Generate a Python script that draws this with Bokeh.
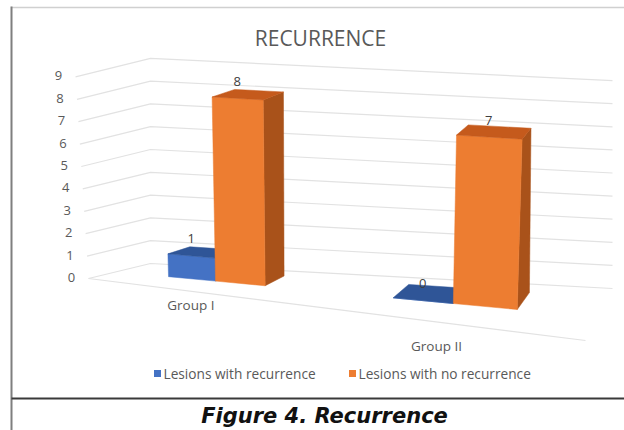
import numpy as np
from bokeh.plotting import figure
from bokeh.models import Range1d
from bokeh.embed import file_html
from bokeh.resources import INLINE
from bokeh.core.properties import value

# ---------------- data ----------------
title_text = "RECURRENCE"
caption_text = "Figure 4. Recurrence"
categories = ["Group I", "Group II"]
series_names = ["Lesions with recurrence", "Lesions with no recurrence"]
lesions_with_recurrence = [1, 0]
lesions_with_no_recurrence = [8, 7]
y_ticks = [0, 1, 2, 3, 4, 5, 6, 7, 8, 9]

# ---------------- style ----------------
FRONT = ["#4472C4", "#ED7D31"]
TOP = ["#2F5597", "#C55A1C"]
SIDE = ["#2B4F8C", "#A9521A"]
GRID = "#E2E2E2"
TXT = "#595959"
FONT = value("Open Sans")

W, H = 624, 430

# ---------------- 3-D projection (floor corners in screen px) ----------------
FL, FR, BR, BL = (88, 278), (585, 340), (612, 288), (150, 263)
HU = dict(FL=22.4, FR=26.0, BR=23.1, BL=22.8)   # px per unit value
SH = dict(FL=-1.44, FR=1.8, BR=0.0, BL=0.0)     # x shear per unit value
PERSP = 1.285
BAR_W = 0.115
V_FRONT, V_BACK = 0.45, 0.82


def warp(u):
    return u / (u + (1 - u) * PERSP)


def bil(u, v, a, b, c, d):
    # a=FL b=FR c=BR d=BL
    return (1 - u) * (1 - v) * a + u * (1 - v) * b + u * v * c + (1 - u) * v * d


def proj(u, v, y):
    uw = warp(u)
    px = bil(uw, v, FL[0], FR[0], BR[0], BL[0])
    py = bil(uw, v, FL[1], FR[1], BR[1], BL[1])
    h = bil(uw, v, HU["FL"], HU["FR"], HU["BR"], HU["BL"])
    s = bil(uw, v, SH["FL"], SH["FR"], SH["BR"], SH["BL"])
    return px + y * s, py - y * h


p = figure(width=W, height=H, x_range=Range1d(0, W), y_range=Range1d(H, 0),
           min_border=0, toolbar_location=None, output_backend="svg",
           x_axis_location=None, y_axis_location=None)
p.grid.visible = False
p.outline_line_color = None
p.background_fill_color = "white"
p.border_fill_color = "white"

# frame lines
p.segment(x0=[11], y0=[7], x1=[W], y1=[7], line_color="#D0D0D0", line_width=1.5)
p.segment(x0=[11], y0=[6], x1=[11], y1=[H], line_color="#7F7F7F", line_width=2)
p.segment(x0=[11], y0=[398], x1=[W], y1=[398], line_color="#3A3A3A", line_width=2)

# gridlines: side wall + back wall
xs, ys = [], []
for t in y_ticks:
    a = proj(0, 0, t)
    b = proj(0, 1, t)
    c = proj(1, 1, t)
    xs.append([a[0], b[0], c[0]])
    ys.append([a[1], b[1], c[1]])
p.multi_line(xs=xs, ys=ys, line_color=GRID, line_width=1.2)
# floor front edge
a = proj(0, 0, 0)
b = proj(1, 0, 0)
p.line(x=[a[0], b[0]], y=[a[1], b[1]], line_color=GRID, line_width=1.2)

# y tick labels
tx, ty, tt = [], [], []
for t in y_ticks:
    x, y = proj(0, 0, t)
    tx.append(x - 17)
    ty.append(y - 1)
    tt.append(str(t))
p.text(x=tx, y=ty, text=tt, text_font=FONT, text_font_size="13px",
       text_color=TXT, text_align="center", text_baseline="middle")

# bars
series_values = [lesions_with_recurrence, lesions_with_no_recurrence]
lab_x, lab_y, lab_t = [], [], []
for si, vals in enumerate(series_values):
    fx, fy, tpx, tpy, sx, sy = [], [], [], [], [], []
    for ci, val in enumerate(vals):
        c = (ci + 0.5) / len(categories)
        u0 = c - BAR_W + si * BAR_W
        u1 = u0 + BAR_W
        P = proj
        f = [P(u0, V_FRONT, 0), P(u1, V_FRONT, 0), P(u1, V_FRONT, val), P(u0, V_FRONT, val)]
        tp = [P(u0, V_FRONT, val), P(u1, V_FRONT, val), P(u1, V_BACK, val), P(u0, V_BACK, val)]
        sd = [P(u1, V_FRONT, 0), P(u1, V_BACK, 0), P(u1, V_BACK, val), P(u1, V_FRONT, val)]
        fx.append([q[0] for q in f]); fy.append([q[1] for q in f])
        tpx.append([q[0] for q in tp]); tpy.append([q[1] for q in tp])
        sx.append([q[0] for q in sd]); sy.append([q[1] for q in sd])
        lx, ly = P((u0 + u1) / 2, V_FRONT, val)
        lab_x.append(lx); lab_y.append(ly - 17); lab_t.append(str(val))
    p.patches(xs=sx, ys=sy, fill_color=SIDE[si], line_color=SIDE[si], line_width=0.5)
    p.patches(xs=fx, ys=fy, fill_color=FRONT[si], line_color=FRONT[si], line_width=0.5)
    p.patches(xs=tpx, ys=tpy, fill_color=TOP[si], line_color=TOP[si], line_width=0.5)

p.text(x=lab_x, y=lab_y, text=lab_t, text_font=FONT, text_font_size="13px",
       text_color="#404040", text_align="center", text_baseline="middle")

# category labels
cx, cy = [], []
for ci, cat in enumerate(categories):
    c = (ci + 0.5) / len(categories)
    x, y = proj(c, 0, 0)
    cx.append(x)
    cy.append(y + 10 + 20 * warp(c))
p.text(x=cx, y=cy, text=categories, text_font=FONT, text_font_size="13.5px",
       text_color=TXT, text_align="center", text_baseline="middle")

# title
p.text(x=[320], y=[37], text=[title_text], text_font=FONT, text_font_size="21px",
       text_color=TXT, text_align="center", text_baseline="middle")

# legend
leg_x = [157, 352]
p.scatter(x=leg_x, y=[373, 373], marker="square", size=7, color=FRONT, line_color=None)
p.text(x=[lx + 6 for lx in leg_x], y=[373, 373], text=series_names, text_font=FONT,
       text_font_size="13.7px", text_color=TXT, text_align="left", text_baseline="middle")

# caption
p.text(x=[324], y=[415], text=[caption_text], text_font=value("DejaVu Sans"),
       text_font_size="21px", text_font_style="bold italic", text_color="#111111",
       text_align="center", text_baseline="middle")

open("out.html", "w").write(file_html(p, INLINE))
